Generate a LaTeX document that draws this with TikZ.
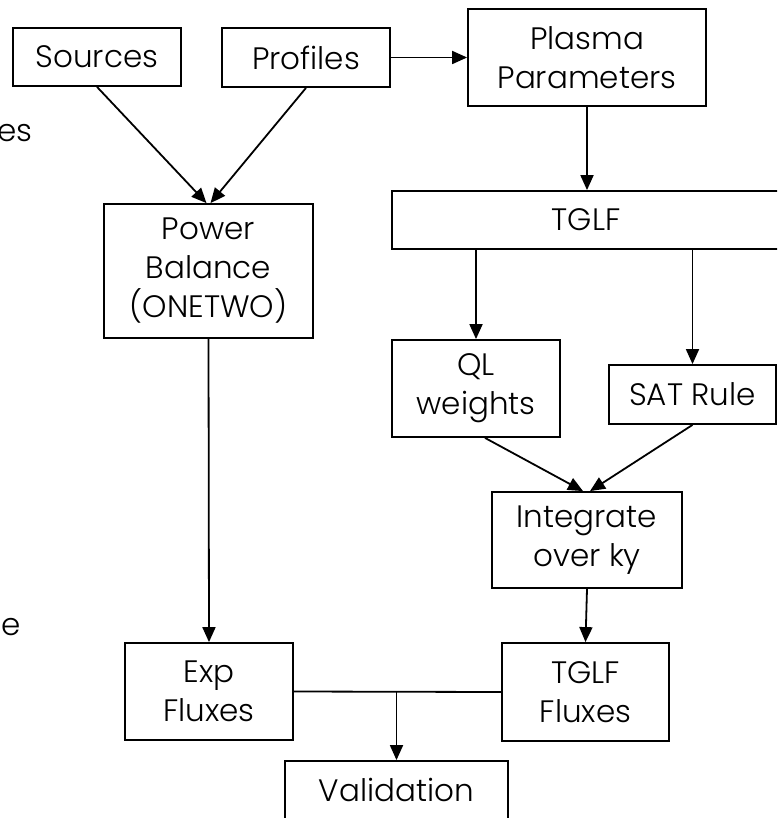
\documentclass[tikz,border=0pt]{standalone}
\usepackage{fontspec}
\IfFontExistsTF{Poppins Light}{\setmainfont{Poppins Light}}{\setmainfont{Poppins}}
\usetikzlibrary{arrows.meta}
\tikzset{
  box/.style={draw=black, line width=1.8pt, inner sep=0pt, align=center,
    font=\fontsize{31}{39}\selectfont},
  flow/.style={draw=black, line width=1.8pt, -{Triangle[length=15pt,width=13pt]}},
  frag/.style={inner sep=0pt, font=\fontsize{31}{39}\selectfont}
}
\begin{document}
\begin{tikzpicture}[x=1pt,y=-1pt]
\clip (0,0) rectangle (777,818);
\fill[white] (0,0) rectangle (777,818);
\node[box, minimum width=168pt, minimum height=58pt] (sources) at (97,57) {Sources};
\node[box, minimum width=168pt, minimum height=59pt] (profiles) at (306,57.5) {Profiles};
\node[box, minimum width=238pt, minimum height=97pt] (plasma) at (587,57.5) {Plasma\\Parameters};
\node[box, minimum width=388pt, minimum height=58pt] (tglf) at (586,220) {TGLF};
\node[box, minimum width=209pt, minimum height=134pt] (power) at (208.5,271) {Power\\Balance\\(ONETWO)};
\node[box, minimum width=168pt, minimum height=97pt] (ql) at (476,388.5) {QL\\weights};
\node[box, minimum width=167pt, minimum height=59pt] (sat) at (692.5,394.5) {SAT Rule};
\node[box, minimum width=190pt, minimum height=96pt] (int) at (587,540) {Integrate\\over ky};
\node[box, minimum width=168pt, minimum height=97pt] (exp) at (209,691.5) {Exp\\Fluxes};
\node[box, minimum width=167pt, minimum height=98pt] (tfl) at (585.5,692) {TGLF\\Fluxes};
\node[box, minimum width=223pt, minimum height=58pt] (val) at (396.5,790) {Validation};
\node[frag, anchor=base east] (fa) at (33,142) {es};
\node[frag, anchor=base east] (fb) at (21,635) {e};

\draw[flow] (sources.south) -- ([xshift=-2pt]power.north);
\draw[flow] (profiles.south) -- ([xshift=2pt]power.north);
\draw[flow] (profiles.east) -- (plasma.west);
\draw[flow] (plasma.south) -- (plasma.south |- tglf.north);
\draw[flow] (ql.north |- tglf.south) -- (ql.north);
\draw[flow] (sat.north |- tglf.south) -- (sat.north);
\draw[flow] ([xshift=9pt]ql.south) -- ([xshift=-4pt]int.north);
\draw[flow] (sat.south) -- ([xshift=3pt]int.north);
\draw[flow] (int.south) -- (tfl.north);
\draw[flow] (power.south) -- (exp.north);
\coordinate (j) at (val.north |- exp.east);
\draw[line width=1.8pt] (exp.east) -- (tfl.west);
\draw[flow] (j) -- (val.north);
\end{tikzpicture}
\end{document}
